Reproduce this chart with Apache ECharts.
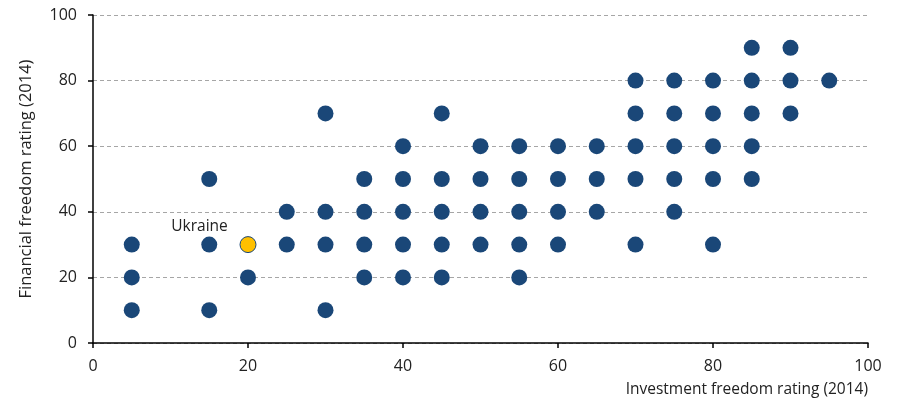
<!DOCTYPE html>
<html>
<head>
<meta charset="utf-8">
<script src="https://cdn.jsdelivr.net/npm/echarts@6/dist/echarts.min.js"></script>
<style>
  html, body { margin: 0; padding: 0; background: #fff; }
  #chart { width: 905px; height: 402px; }
</style>
</head>
<body>
<div id="chart"></div>
<script>
// Investment freedom (x) vs financial freedom (y), 2014 ratings
const investment = [5, 5, 5, 15, 15, 15, 20, 25, 25, 30, 30, 30, 30,
  35, 35, 35, 35, 40, 40, 40, 40, 40, 45, 45, 45, 45, 45,
  50, 50, 50, 50, 55, 55, 55, 55, 55, 60, 60, 60, 60, 65, 65, 65,
  70, 70, 70, 70, 70, 75, 75, 75, 75, 75, 80, 80, 80, 80, 80,
  85, 85, 85, 85, 85, 90, 90, 90, 95];
const financial = [30, 20, 10, 50, 30, 10, 20, 40, 30, 70, 40, 30, 10,
  50, 40, 30, 20, 60, 50, 40, 30, 20, 70, 50, 40, 30, 20,
  60, 50, 40, 30, 60, 50, 40, 30, 20, 60, 50, 40, 30, 60, 50, 40,
  80, 70, 60, 50, 30, 80, 70, 60, 50, 40, 80, 70, 60, 50, 30,
  90, 80, 70, 60, 50, 90, 80, 70, 80];
const highlightName = 'Ukraine';
const highlightPoint = [20, 30];

const font = '"Open Sans", "Liberation Sans", Arial, sans-serif';
const pts = investment.map((x, i) => [x, financial[i]]);

const chart = echarts.init(document.getElementById('chart'));
chart.setOption({
  animation: false,
  grid: { left: 93, right: 37, top: 15, bottom: 59 },
  xAxis: {
    type: 'value', min: 0, max: 100, interval: 20,
    name: 'Investment freedom rating (2014)',
    nameLocation: 'end', nameGap: 0,
    nameTextStyle: { fontFamily: font, fontSize: 15.5, color: '#222', align: 'right', verticalAlign: 'top', padding: [39, 0, 0, 0] },
    axisLine: { lineStyle: { color: '#000', width: 1.5 } },
    axisTick: { show: true, length: 5, lineStyle: { color: '#000', width: 1.5 } },
    axisLabel: { fontFamily: font, fontSize: 16, color: '#222', margin: 15 },
    splitLine: { show: false }
  },
  yAxis: {
    type: 'value', min: 0, max: 100, interval: 20,
    name: 'Financial freedom rating (2014)',
    nameLocation: 'middle', nameGap: 58,
    nameTextStyle: { fontFamily: font, fontSize: 16.5, color: '#222' },
    axisLine: { show: true, lineStyle: { color: '#000', width: 1.5 } },
    axisTick: { show: true, length: 5, lineStyle: { color: '#000', width: 1.5 } },
    axisLabel: { fontFamily: font, fontSize: 16, color: '#222', margin: 16 },
    splitLine: { show: true, lineStyle: { color: '#a6a6a6', type: [4, 3], width: 1 } }
  },
  series: [
    {
      type: 'scatter', symbolSize: 16,
      itemStyle: { color: '#1a4778', opacity: 1 },
      data: pts
    },
    {
      type: 'scatter', symbolSize: 16,
      itemStyle: { color: '#ffc000', borderColor: '#1a4778', borderWidth: 1, opacity: 1 },
      label: {
        show: true, formatter: highlightName, position: [-40, -10],
        align: 'center', verticalAlign: 'middle',
        fontFamily: font, fontSize: 15.5, color: '#222'
      },
      data: [highlightPoint]
    }
  ]
});
</script>
</body>
</html>
